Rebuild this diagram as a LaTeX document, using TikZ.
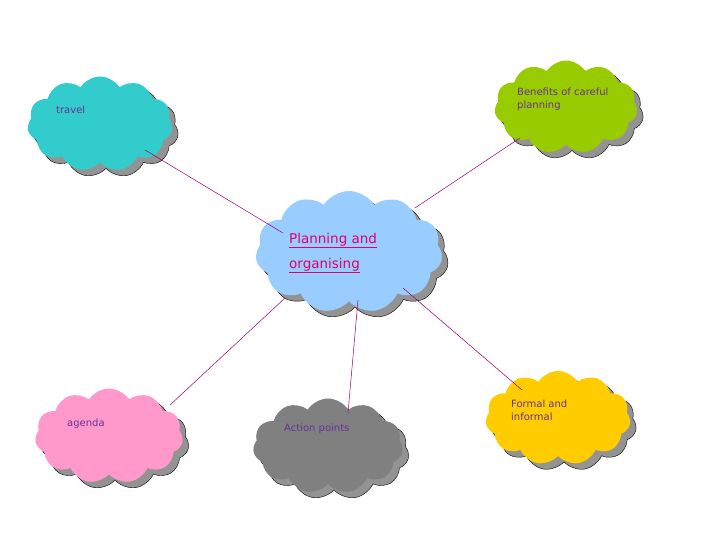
\documentclass[tikz,border=0pt]{standalone}
\usepackage{fontspec}
\setmainfont{DejaVu Sans}
\usetikzlibrary{shapes.symbols,shadows}
\definecolor{lbl}{HTML}{663399}
\definecolor{link}{HTML}{990066}
\definecolor{hot}{HTML}{E0006A}
\begin{document}
\begin{tikzpicture}[x=1pt,y=-1pt]
    \tikzset{blob/.style={cloud, cloud puffs=11, cloud puff arc=115, draw=none,
        inner sep=0pt, copy shadow={shadow xshift=6pt, shadow yshift=-6pt, fill=gray!85}}}
    \tikzstyle{lab}=[anchor=north west, align=left, inner sep=0pt, text=lbl, font=\fontsize{10}{13}\selectfont]
    \useasboundingbox (0,0) rectangle (720,540);
    \node [blob, fill={rgb,255:red,51;green,204;blue,204}, minimum width=145pt, minimum height=95pt] (travel) at (100,124) {};
    \node [blob, fill={rgb,255:red,153;green,204;blue,0}, minimum width=143pt, minimum height=93pt] (benefit) at (566,107) {};
    \node [blob, fill={rgb,255:red,153;green,204;blue,255}, minimum width=187pt, minimum height=122pt] (plan) at (349,252) {};
    \node [blob, fill={rgb,255:red,255;green,153;blue,204}, minimum width=148pt, minimum height=95pt] (agenda) at (109,436) {};
    \node [blob, fill={rgb,255:red,128;green,128;blue,128}, minimum width=150pt, minimum height=95pt] (action) at (328,446) {};
    \node [blob, fill={rgb,255:red,255;green,204;blue,0}, minimum width=145pt, minimum height=94pt] (formal) at (558,418) {};
    % link ends
    \coordinate (t1) at (145,150);
    \coordinate (b1) at (520,138);
    \coordinate (p1) at (283,233);
    \coordinate (p2) at (415,208);
    \coordinate (p3) at (285,298);
    \coordinate (p4) at (358,300);
    \coordinate (p5) at (403,288);
    \coordinate (a1) at (170,405);
    \coordinate (c1) at (348,413);
    \coordinate (f1) at (522,390);
    \draw [link, line width=0.5pt] (t1) -- (p1);
    \draw [link, line width=0.5pt] (b1) -- (p2);
    \draw [link, line width=0.5pt] (p3) -- (a1);
    \draw [link, line width=0.5pt] (p4) -- (c1);
    \draw [link, line width=0.5pt] (p5) -- (f1);
    % labels
    \node [lab] (tl) at (56,106) {travel};
    \node [lab] (bl) at (517,88) {Benefits of careful\\planning};
    \node [lab, text=hot, font=\fontsize{13.5}{25}\selectfont] (pl) at (289,233) {\underline{Planning and}\\\underline{organising}};
    \node [lab] (al) at (67,419) {agenda};
    \node [lab] (cl) at (284,424) {Action points};
    \node [lab] (fl) at (511,400) {Formal and\\informal};
\end{tikzpicture}
\end{document}
